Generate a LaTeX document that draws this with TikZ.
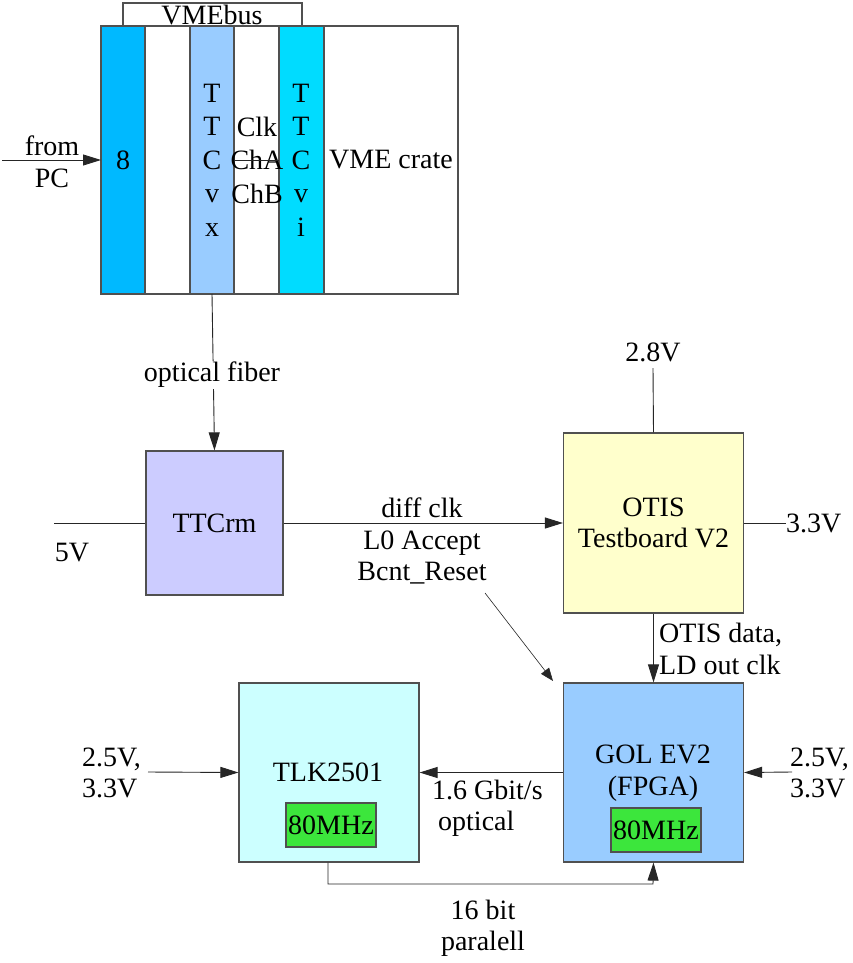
\documentclass[tikz,border=0pt]{standalone}
\usepackage{fontspec}
\setmainfont{Liberation Serif}
\usetikzlibrary{arrows.meta}
\definecolor{slotA}{RGB}{0,185,255}
\definecolor{slotB}{RGB}{153,204,255}
\definecolor{slotC}{RGB}{0,220,255}
\definecolor{ttcrmfill}{RGB}{204,204,255}
\definecolor{otisfill}{RGB}{255,255,204}
\definecolor{golfill}{RGB}{153,204,255}
\definecolor{tlkfill}{RGB}{204,255,255}
\definecolor{greenfill}{RGB}{60,230,60}
\definecolor{bordergray}{RGB}{80,80,80}
\tikzset{
  box/.style={draw=bordergray, line width=1.2pt, inner sep=0pt},
  conn/.style={draw=black!85, line width=0.9pt},
  arr/.style={conn, -{Triangle[length=18pt,width=11pt]}},
  lbl/.style={font=\fontsize{28}{31.5}\selectfont, align=center, inner sep=0pt},
  tall/.style={font=\fontsize{28}{33.5}\selectfont},
}
\begin{document}
\begin{tikzpicture}[x=1pt,y=-1pt]
\useasboundingbox (0,0) rectangle (853,963);
\fill[white] (0,0) rectangle (853,963);
% VME crate
\draw[box] (123,3) rectangle (302,26);
\node[lbl] (vmebus) at (212,15) {VMEbus};
\draw[box,fill=white] (101,26) rectangle (458,294);
\draw[box,fill=slotA] (101,26) rectangle (145,294);
\draw[box,fill=slotB] (190,26) rectangle (234,294);
\draw[box,fill=slotC] (279,26) rectangle (324,294);
\coordinate (crateL) at (101,160);
\coordinate (pcin) at (2,160);
\coordinate (ttcvxR) at (234,160);
\coordinate (ttcviL) at (279,160);
\coordinate (ttcvxB) at (212,294);
\node[lbl] (eight) at (123,160) {8};
\node[lbl, tall] (ttcvx) at (212,160) {T\\T\\C\\v\\x};
\node[lbl, tall] (ttcvi) at (301,160) {T\\T\\C\\v\\i};
\node[lbl, tall] (chans) at (257,160) {Clk\\ChA\\ChB};
\node[lbl, anchor=west] (crate) at (329,160) {VME crate};
\draw[conn] (ttcvxR) -- (ttcviL);
\draw[arr] (pcin) -- (crateL);
\node[lbl] (from) at (52,146) {from};
\node[lbl] (pc) at (52,178) {PC};
% TTCrm
\node[box, fill=ttcrmfill, minimum width=137pt, minimum height=144pt] (ttcrm) at (214.5,523) {};
\node[lbl] at (ttcrm) {TTCrm};
\draw[arr] (ttcvxB) -- (ttcrm.north);
\node[lbl, fill=white, inner sep=1pt] (optfib) at (212,375) {optical fiber};
\coordinate (fivein) at (54,523);
\draw[conn] (fivein) -- (ttcrm.west);
\node[lbl] (fivev) at (72,553) {5V};
% OTIS
\node[box, fill=otisfill, minimum width=180pt, minimum height=180pt] (otis) at (653.5,523) {};
\node[lbl] at (otis) {OTIS\\Testboard V2};
\draw[arr] (ttcrm.east) -- (otis.west);
\node[lbl] (sig) at (422,541) {diff clk\\L0 Accept\\Bcnt\_Reset};
\node[lbl] (v28) at (653,352) {2.8V};
\coordinate (v28e) at (653,368);
\draw[conn] (v28e) -- (otis.north);
\node[lbl, anchor=west] (v33) at (786,523) {3.3V};
\draw[conn] (otis.east) -- (v33.west);
% GOL
\node[box, fill=golfill, minimum width=180pt, minimum height=179pt] (gol) at (653.5,772.5) {};
\node[lbl] (goltxt) at (653,773) {GOL EV2\\(FPGA)};
\node[box, fill=greenfill, minimum width=90pt, minimum height=44pt] (golclk) at (656,830) {};
\node[lbl] at (golclk) {80MHz};
\draw[arr] (otis.south) -- (gol.north);
\node[lbl, anchor=west, align=left] (otisdata) at (659,649) {OTIS data,\\LD out clk};
\coordinate (diagS) at (485,593);
\coordinate (diagE) at (553,681);
\draw[conn, -{Triangle[length=13pt,width=10pt]}, line width=0.6pt] (diagS) -- (diagE);
% TLK
\node[box, fill=tlkfill, minimum width=180pt, minimum height=179pt] (tlk) at (329,772.5) {};
\node[lbl] (tlktxt) at (328,772) {TLK2501};
\node[box, fill=greenfill, minimum width=90pt, minimum height=44pt] (tlkclk) at (331,825) {};
\node[lbl] at (tlkclk) {80MHz};
\draw[arr] (gol.west) -- (tlk.east);
\node[lbl, anchor=west, align=left] (gbit) at (432,808.5) {1.6 Gbit/s\\\hspace{6pt}optical};
% side inputs
\node[lbl, align=left, anchor=west] (lin) at (82,773) {2.5V,\\3.3V};
\coordinate (linE) at (148,772);
\draw[arr] (linE) -- (tlk.west);
\node[lbl, align=left, anchor=west] (rin) at (790,773) {2.5V,\\3.3V};
\coordinate (rinE) at (792,772);
\draw[arr] (rinE) -- (gol.east);
% bottom parallel
\coordinate (bl) at (328,884);
\coordinate (br) at (653,884);
\draw[arr] (tlk.south -| bl) -- (bl) -- (br) -- (gol.south);
\node[lbl] (par) at (483,928.5) {16 bit\\paralell};
\end{tikzpicture}
\end{document}
